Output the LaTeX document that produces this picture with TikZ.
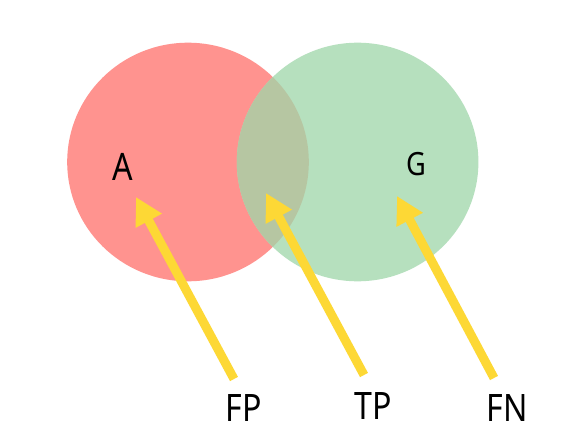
\documentclass[tikz,border=0pt]{standalone}
\usepackage{fontspec}
\setmainfont{Noto Sans}
\usetikzlibrary{arrows.meta}
\definecolor{redc}{HTML}{FF938F}
\definecolor{greenc}{HTML}{B6E0BE}
\definecolor{overc}{HTML}{B6C6A2}
\definecolor{yel}{HTML}{FDD835}
\tikzset{
  lbl/.style={anchor=base, inner sep=0pt, font=\fontsize{37.8}{40}\selectfont},
  glbl/.style={anchor=base, inner sep=0pt, font=\fontsize{32}{34}\selectfont},
  yarrow/.style={draw=yel, line width=9pt, line cap=butt, -{Triangle[length=27pt,width=28pt]}},
}
\newcommand{\sq}[1]{\scalebox{0.85}[1]{#1}}
\begin{document}
\begin{tikzpicture}[x=1pt,y=-1pt]
\useasboundingbox (0,0) rectangle (580,441);
\fill[white] (0,0) rectangle (580,441);
\fill[redc] (188,162) ellipse [x radius=120.8, y radius=119.3];
\fill[greenc] (357.6,162) ellipse [x radius=120.8, y radius=119.3];
\begin{scope}
  \clip (188,162) ellipse [x radius=120.8, y radius=119.3];
  \fill[overc] (357.6,162) ellipse [x radius=120.8, y radius=119.3];
\end{scope}
\node[lbl] (A) at (123,180) {\sq{A}};
\node[glbl] (G) at (416.5,175.5) {\sq{G}};
\node[lbl] (FP) at (244,421.7) {\sq{FP}};
\node[lbl] (TP) at (373,419) {\sq{TP}};
\node[lbl] (FN) at (507.5,421.7) {\sq{FN}};
\coordinate (fpt) at (234,379);
\coordinate (fph) at (136,197);
\coordinate (tpt) at (364,375);
\coordinate (tph) at (266,193);
\coordinate (fnt) at (494,378);
\coordinate (fnh) at (397,196);
\draw[yarrow] (fpt) -- (fph);
\draw[yarrow] (tpt) -- (tph);
\draw[yarrow] (fnt) -- (fnh);
\end{tikzpicture}
\end{document}
